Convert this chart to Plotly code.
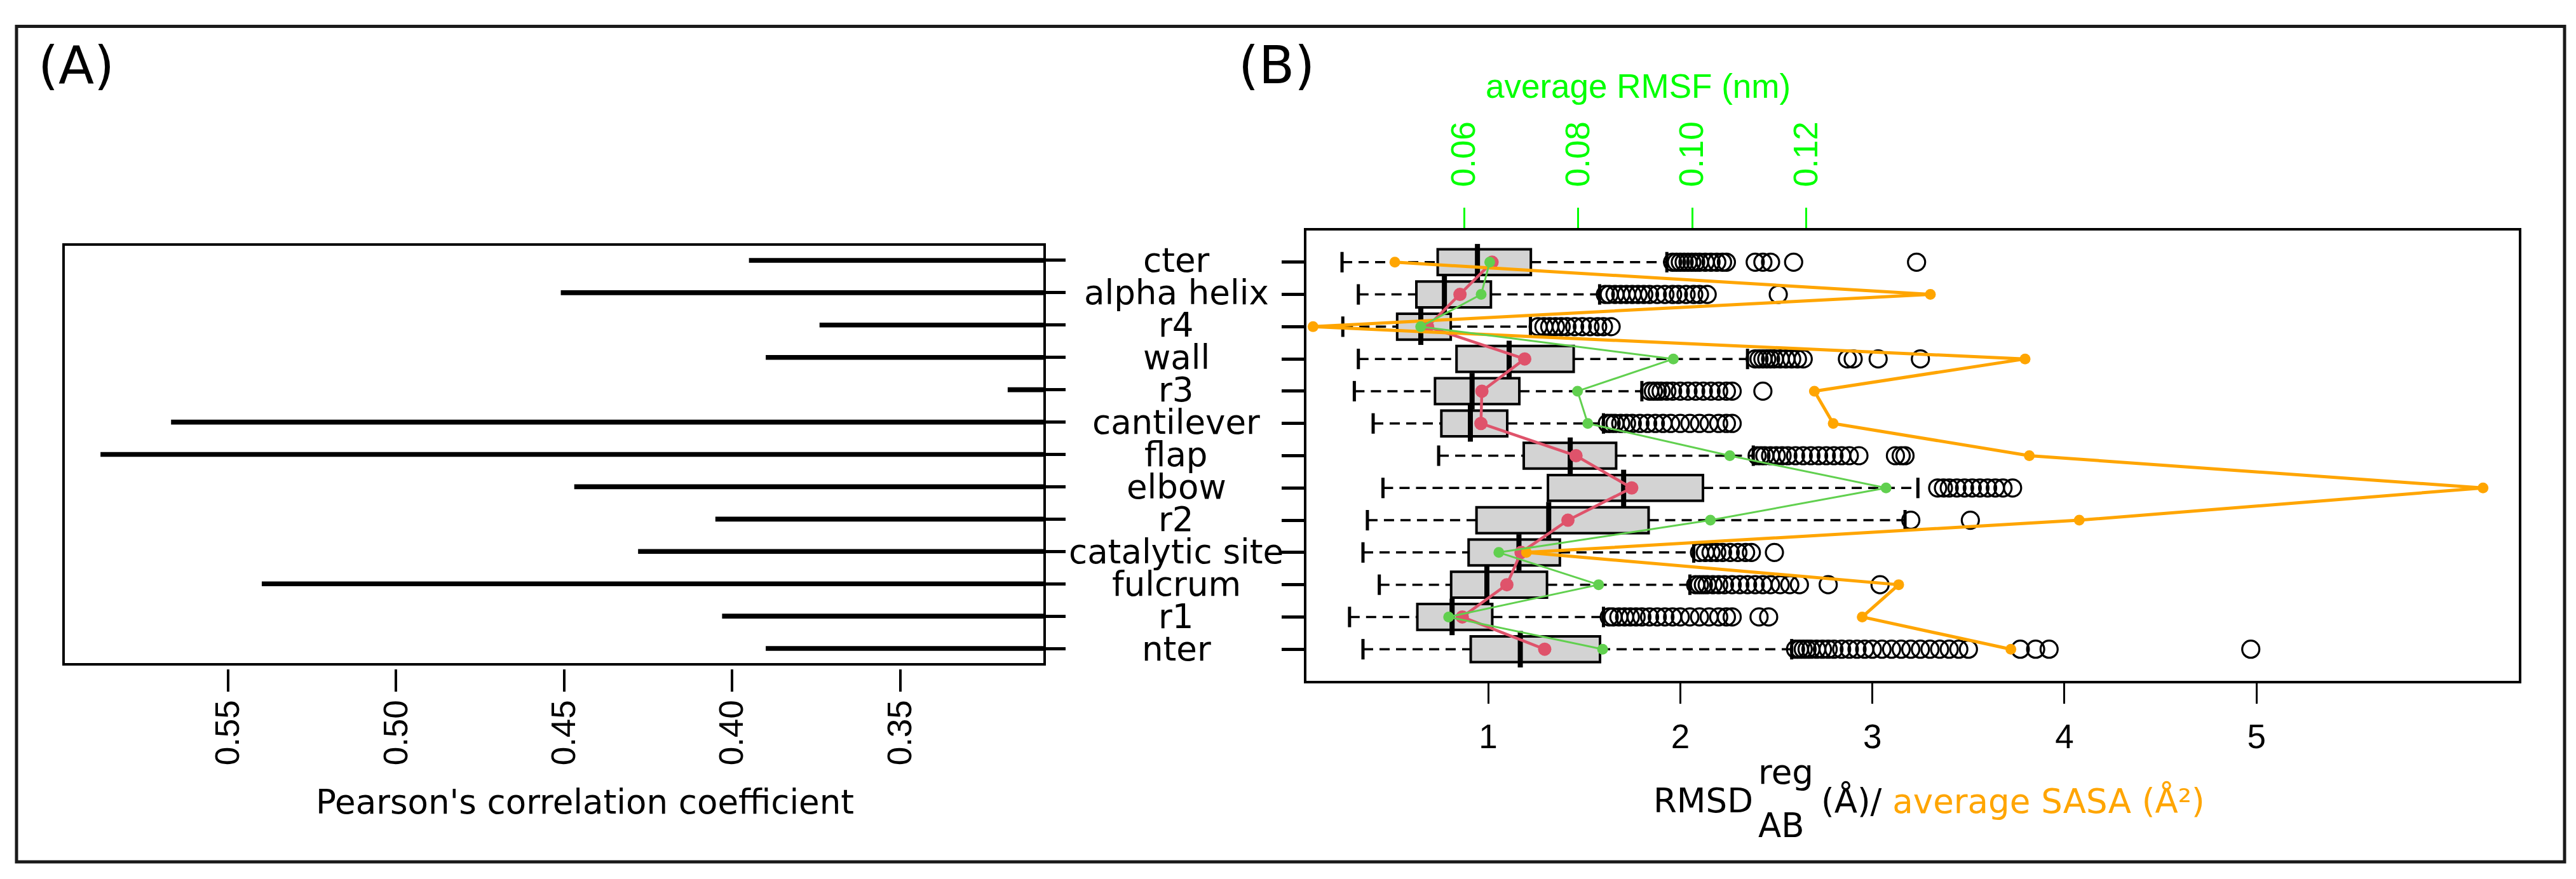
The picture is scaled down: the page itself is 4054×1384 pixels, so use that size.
import plotly.graph_objects as go

W, H = 4054, 1384


def px(x):
    return x / W


def py(y):
    return 1 - y / H


# ---------------- data ----------------
categories = ["cter", "alpha helix", "r4", "wall", "r3", "cantilever", "flap",
              "elbow", "r2", "catalytic site", "fulcrum", "r1", "nter"]

# Panel A: Pearson's correlation coefficient per region
pearson_r = [0.395, 0.451, 0.374, 0.390, 0.318, 0.567, 0.588,
             0.447, 0.405, 0.428, 0.540, 0.403, 0.390]
pearson_ticks = [0.55, 0.50, 0.45, 0.40, 0.35]
pearson_tick_labels = ["0.55", "0.50", "0.45", "0.40", "0.35"]

# Panel B: RMSD boxplot statistics (Å)
rmsd_lower_whisker = [0.239, 0.324, 0.243, 0.324, 0.303, 0.401, 0.742,
                      0.452, 0.371, 0.348, 0.433, 0.278, 0.348]
rmsd_q1 = [0.737, 0.626, 0.526, 0.835, 0.723, 0.756, 1.185,
           1.311, 0.939, 0.898, 0.807, 0.631, 0.909]
rmsd_median = [0.944, 0.772, 0.649, 1.109, 0.916, 0.907, 1.427,
               1.705, 1.315, 1.160, 0.993, 0.812, 1.167]
rmsd_q3 = [1.222, 1.014, 0.805, 1.445, 1.162, 1.099, 1.666,
           2.118, 1.835, 1.373, 1.306, 1.021, 1.582]
rmsd_upper_whisker = [1.93, 1.58, 1.22, 2.35, 1.80, 1.60, 2.38,
                      3.237, 3.17, 2.07, 2.05, 1.60, 2.58]
rmsd_outliers = [
    [1.96, 1.98, 2.00, 2.02, 2.04, 2.06, 2.08, 2.10, 2.13, 2.16, 2.19, 2.22, 2.24, 2.39, 2.43, 2.47, 2.59, 3.23],
    [1.61, 1.63, 1.66, 1.69, 1.72, 1.75, 1.78, 1.81, 1.84, 1.88, 1.92, 1.96, 1.99, 2.03, 2.07, 2.10, 2.14, 2.51],
    [1.26, 1.29, 1.32, 1.35, 1.38, 1.41, 1.45, 1.49, 1.53, 1.57, 1.60, 1.64],
    [2.39, 2.41, 2.43, 2.45, 2.47, 2.49, 2.52, 2.55, 2.58, 2.61, 2.64, 2.87, 2.90, 3.03, 3.25],
    [1.84, 1.86, 1.88, 1.90, 1.93, 1.96, 2.00, 2.04, 2.08, 2.12, 2.16, 2.20, 2.24, 2.27, 2.43],
    [1.62, 1.64, 1.66, 1.69, 1.72, 1.75, 1.79, 1.83, 1.87, 1.91, 1.95, 2.00, 2.05, 2.10, 2.15, 2.20, 2.24, 2.27],
    [2.40, 2.42, 2.44, 2.47, 2.50, 2.53, 2.56, 2.60, 2.64, 2.68, 2.72, 2.76, 2.80, 2.84, 2.88, 2.93, 3.12, 3.15, 3.17],
    [3.34, 3.37, 3.40, 3.44, 3.48, 3.52, 3.56, 3.60, 3.64, 3.68, 3.73],
    [3.20, 3.51],
    [2.10, 2.13, 2.16, 2.19, 2.22, 2.26, 2.30, 2.34, 2.37, 2.49],
    [2.08, 2.10, 2.12, 2.14, 2.17, 2.20, 2.23, 2.27, 2.31, 2.35, 2.39, 2.43, 2.47, 2.52, 2.57, 2.62, 2.77, 3.04],
    [1.63, 1.65, 1.68, 1.71, 1.74, 1.77, 1.80, 1.84, 1.88, 1.92, 1.96, 2.00, 2.05, 2.10, 2.15, 2.20, 2.24, 2.27, 2.41, 2.46],
    [2.60, 2.62, 2.64, 2.66, 2.68, 2.71, 2.74, 2.77, 2.80, 2.84, 2.88, 2.92, 2.96, 3.00, 3.05, 3.10, 3.15, 3.20,
     3.25, 3.30, 3.35, 3.40, 3.45, 3.50, 3.77, 3.85, 3.92, 4.97],
]
rmsd_mean = [1.02, 0.853, 0.684, 1.19, 0.967, 0.962, 1.457,
             1.747, 1.415, 1.171, 1.097, 0.865, 1.294]
rmsf_mean = [0.0645, 0.0630, 0.0524, 0.0967, 0.0799, 0.0817, 0.1066,
             0.1340, 0.1032, 0.0661, 0.0836, 0.0573, 0.0843]
sasa_mean = [0.514, 3.302, 0.088, 3.795, 2.698, 2.796, 3.817,
             6.179, 4.077, 1.199, 3.137, 2.947, 3.721]
rmsd_ticks = [1, 2, 3, 4, 5]
rmsf_ticks = [0.06, 0.08, 0.10, 0.12]
rmsf_tick_labels = ["0.06", "0.08", "0.10", "0.12"]

RED = "#DF536B"
GREEN = "#61D04F"
ORANGE = "#FFA500"
AXGREEN = "#00FF00"
TICKFONT = "Liberation Sans"
TEXTFONT = "DejaVu Sans"

fig = go.Figure()

# ---------------- Panel A ----------------
fig.add_trace(go.Bar(
    x=pearson_r, y=categories, orientation="h", width=0.15,
    marker=dict(color="black", line=dict(width=0)),
    xaxis="x", yaxis="y", hoverinfo="skip"))

# ---------------- Panel B ----------------
fig.add_trace(go.Box(
    y=categories, q1=rmsd_q1, median=rmsd_median, q3=rmsd_q3,
    lowerfence=rmsd_q1, upperfence=rmsd_q3, orientation="h", width=0.8,
    fillcolor="#D3D3D3", line=dict(color="black", width=4),
    boxpoints=False, xaxis="x2", yaxis="y2", hoverinfo="skip"))

wx, wy = [], []
for c, lo, a, b, hi in zip(categories, rmsd_lower_whisker, rmsd_q1, rmsd_q3, rmsd_upper_whisker):
    wx += [lo, a, None, b, hi, None]
    wy += [c, c, None, c, c, None]
fig.add_trace(go.Scatter(
    x=wx, y=wy, mode="lines", line=dict(color="black", width=3.5, dash="16px,10px"),
    xaxis="x2", yaxis="y2", hoverinfo="skip"))

fig.add_trace(go.Scatter(
    x=rmsd_lower_whisker + rmsd_upper_whisker, y=categories + categories, mode="markers",
    marker=dict(symbol="line-ns", size=23, line=dict(color="black", width=5)),
    xaxis="x2", yaxis="y2", hoverinfo="skip"))

fig.add_trace(go.Scatter(
    x=rmsd_median, y=categories, mode="markers",
    marker=dict(symbol="line-ns", size=41, line=dict(color="black", width=8)),
    xaxis="x2", yaxis="y2", hoverinfo="skip"))

ox, oy = [], []
for c, vals in zip(categories, rmsd_outliers):
    ox += vals
    oy += [c] * len(vals)
fig.add_trace(go.Scatter(
    x=ox, y=oy, mode="markers",
    marker=dict(symbol="circle-open", size=27, color="black", line=dict(width=3.2)),
    xaxis="x2", yaxis="y2", hoverinfo="skip"))

fig.add_trace(go.Scatter(
    x=rmsd_mean, y=categories, mode="lines+markers",
    line=dict(color=RED, width=4.5), marker=dict(size=21, color=RED),
    xaxis="x2", yaxis="y2", cliponaxis=False))
fig.add_trace(go.Scatter(
    x=rmsf_mean, y=categories, mode="lines+markers",
    line=dict(color=GREEN, width=3), marker=dict(size=17, color=GREEN),
    xaxis="x3", yaxis="y2", cliponaxis=False))
fig.add_trace(go.Scatter(
    x=sasa_mean, y=categories, mode="lines+markers",
    line=dict(color=ORANGE, width=5), marker=dict(size=17, color=ORANGE),
    xaxis="x2", yaxis="y2", cliponaxis=False))

# ---------------- layout ----------------
common = dict(showgrid=False, zeroline=False, showline=False)

fig.update_layout(
    width=W, height=H, margin=dict(l=0, r=0, t=0, b=0),
    paper_bgcolor="white", plot_bgcolor="white", showlegend=False,
    xaxis=dict(domain=[px(92), px(1636)], range=[0.599, 0.307], anchor="free",
               position=py(1045), tickmode="array", tickvals=pearson_ticks,
               ticktext=pearson_tick_labels, tickangle=-90, ticks="outside",
               ticklen=35, tickwidth=4, tickcolor="black", ticklabelstandoff=-8,
               tickfont=dict(family=TICKFONT, size=53, color="black"), **common),
    yaxis=dict(domain=[py(1038), py(377)], type="category", categoryorder="array",
               categoryarray=categories, range=[12.49, -0.49], side="right",
               anchor="x", ticks="outside", ticklen=32, tickwidth=5,
               tickcolor="black", showticklabels=False, **common),
    xaxis2=dict(domain=[px(2046), px(3958)], range=[0.047, 6.372], anchor="y2",
                tickmode="array", tickvals=rmsd_ticks, ticks="outside", ticklen=33,
                tickwidth=3, tickcolor="black", ticklabelstandoff=6,
                tickfont=dict(family=TICKFONT, size=53, color="black"), **common),
    yaxis2=dict(domain=[py(1066), py(353)], type="category", categoryorder="array",
                categoryarray=categories, range=[13.02, -1.02], side="left",
                anchor="x2", ticks="outside", ticklen=36, tickwidth=5,
                tickcolor="black", showticklabels=False, **common),
    xaxis3=dict(overlaying="x2", side="top", anchor="y2", range=[0.03214, 0.24518],
                tickmode="array", tickvals=rmsf_ticks, ticktext=rmsf_tick_labels,
                tickangle=-90, ticks="outside", ticklen=33, tickwidth=3,
                tickcolor=AXGREEN, ticklabelstandoff=22,
                tickfont=dict(family=TICKFONT, size=53, color=AXGREEN), **common),
)

shapes = [
    dict(type="rect", xref="x domain", yref="y domain", x0=0, x1=1, y0=0, y1=1,
         line=dict(color="black", width=4), layer="above"),
    dict(type="rect", xref="x2 domain", yref="y2 domain", x0=0, x1=1, y0=0, y1=1,
         line=dict(color="black", width=4), layer="above"),
    dict(type="rect", xref="paper", yref="paper", x0=px(18), x1=px(4028),
         y0=py(1349), y1=py(33.5), line=dict(color="#1a1a1a", width=5), layer="above"),
]

annotations = []
for c in categories:
    annotations.append(dict(x=px(1843), xref="paper", y=c, yref="y", text=c,
                            showarrow=False, xanchor="center", yanchor="middle",
                            font=dict(family=TEXTFONT, size=53, color="black")))

annotations += [
    dict(x=px(112), y=py(94), xref="paper", yref="paper", text="(A)", showarrow=False,
         xanchor="center", yanchor="middle", font=dict(family=TEXTFONT, size=82, color="black")),
    dict(x=px(2001), y=py(94), xref="paper", yref="paper", text="(B)", showarrow=False,
         xanchor="center", yanchor="middle", font=dict(family=TEXTFONT, size=82, color="black")),
    dict(x=px(912), y=py(1254), xref="paper", yref="paper",
         text="Pearson's correlation coefficient", showarrow=False,
         xanchor="center", yanchor="middle", font=dict(family=TEXTFONT, size=53, color="black")),
    dict(x=px(2570), y=py(128), xref="paper", yref="paper", text="average RMSF (nm)",
         showarrow=False, xanchor="center", yanchor="middle",
         font=dict(family=TICKFONT, size=53, color=AXGREEN)),
    dict(x=px(2753), y=py(1252), xref="paper", yref="paper", text="RMSD", showarrow=False,
         xanchor="right", yanchor="middle", font=dict(family=TEXTFONT, size=53, color="black")),
    dict(x=px(2757), y=py(1207), xref="paper", yref="paper", text="reg", showarrow=False,
         xanchor="left", yanchor="middle", font=dict(family=TEXTFONT, size=53, color="black")),
    dict(x=px(2757), y=py(1291), xref="paper", yref="paper", text="AB", showarrow=False,
         xanchor="left", yanchor="middle", font=dict(family=TEXTFONT, size=53, color="black")),
    dict(x=px(2856), y=py(1252), xref="paper", yref="paper",
         text="(Å)/ <span style='color:#FFA500'>average SASA (Å²)</span>", showarrow=False,
         xanchor="left", yanchor="middle", font=dict(family=TEXTFONT, size=53, color="black")),
]

fig.update_layout(shapes=shapes, annotations=annotations)
fig.write_html("out.html")
